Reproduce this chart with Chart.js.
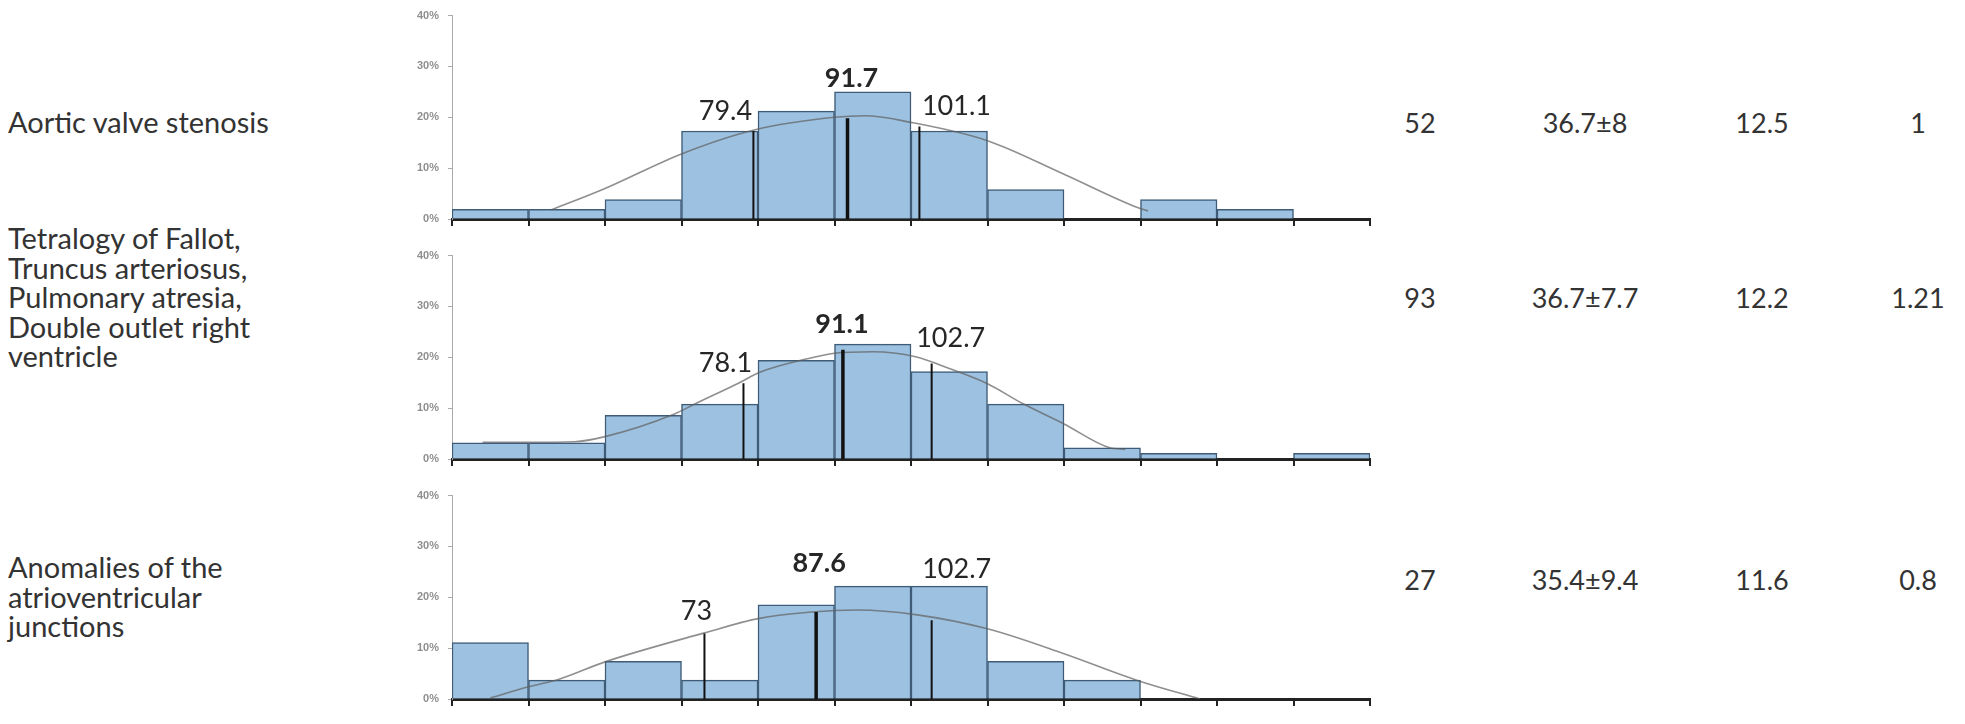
<!DOCTYPE html>
<html>
<head>
<meta charset="utf-8">
<script src="https://cdn.jsdelivr.net/npm/chart.js@4.4.0/dist/chart.umd.min.js"></script>
<style>
  html, body { margin: 0; padding: 0; background: #fff; }
  body { width: 1965px; height: 724px; position: relative; overflow: hidden;
         font-family: Lato, "Open Sans", sans-serif; color: #333; }
  .panel { position: absolute; left: 380px; width: 1020px; height: 240px; }
  .group { position: absolute; left: 8px; font-size: 29px; line-height: 29.5px;
           transform: translateY(-50%); }
  .cell { position: absolute; font-size: 27px; transform: translate(-50%, -50%);
          white-space: nowrap; }
</style>
</head>
<body>
<canvas id="c0" class="panel" width="1020" height="240" style="top:0px"></canvas>
<canvas id="c1" class="panel" width="1020" height="240" style="top:240px"></canvas>
<canvas id="c2" class="panel" width="1020" height="240" style="top:480px"></canvas>
<div id="table"></div>

<script>
// histogram bins (10 units wide, 40..160)
var binEdges = [40, 50, 60, 70, 80, 90, 100, 110, 120, 130, 140, 150, 160];
var binMids = [45, 55, 65, 75, 85, 95, 105, 115, 125, 135, 145, 155];
var yTicks = [0, 10, 20, 30, 40];

// % of patients per bin
var aorticPct    = [1.9, 1.9, 3.8, 17.3, 21.2, 25.0, 17.3, 5.8, 0, 3.8, 1.9, 0];
var tetralogyPct = [3.2, 3.2, 8.6, 10.8, 19.4, 22.6, 17.2, 10.8, 2.2, 1.1, 0, 1.1];
var avPct        = [11.1, 3.7, 7.4, 3.7, 18.5, 22.2, 22.2, 7.4, 3.7, 0, 0, 0];

// fitted curves
var aorticCurveX = [53, 60, 70, 79.5, 90, 94, 100, 110, 120, 129.7, 131];
var aorticCurveY = [1.8, 6.0, 12.8, 17.5, 20.0, 20.3, 19.0, 15.4, 8.8, 2.2, 1.6];
var tetralogyCurveX = [44, 50, 56, 60, 69, 72, 77.3, 80.3, 86.4, 90, 95, 100.6, 105, 110, 114.6, 120, 126, 128];
var tetralogyCurveY = [3.3, 3.3, 3.4, 4.4, 8.8, 11.0, 14.8, 17.1, 19.7, 20.8, 21.1, 20.1, 17.8, 14.8, 10.9, 6.9, 2.2, 1.9];
var avCurveX = [45, 50, 54, 60, 73, 80, 87, 93, 100.6, 110, 120, 129.7, 137.8];
var avCurveY = [0.2, 2.4, 3.9, 7.3, 13.0, 15.8, 17.1, 17.5, 16.6, 13.8, 8.9, 3.6, 0];

// marker lines: value and height (%)
var aorticMarks = [79.4, 91.7, 101.1];
var aorticMarkTops = [17.3, 19.8, 18.2];
var tetralogyMarks = [78.1, 91.1, 102.7];
var tetralogyMarkTops = [14.9, 21.5, 18.8];
var avMarks = [73, 87.6, 102.7];
var avMarkTops = [12.9, 17.1, 15.5];

// table
var groupNames = [
  ['Aortic valve stenosis'],
  ['Tetralogy of Fallot,', 'Truncus arteriosus,', 'Pulmonary atresia,', 'Double outlet right', 'ventricle'],
  ['Anomalies of the', 'atrioventricular', 'junctions']
];
var nPatients = ['52', '93', '27'];
var ageText = ['36.7±8', '36.7±7.7', '35.4±9.4'];
var col3Text = ['12.5', '12.2', '11.6'];
var col4Text = ['1', '1.21', '0.8'];

// label placement (pixel offsets from the line, baseline height in %)
var labelStyle = [
  { dx: [-28, 4, 37], lift: [19.4, 25.9, 20.4] },
  { dx: [-18, -1, 19], lift: [17.1, 24.8, 22.1] },
  { dx: [-8, 3, 25], lift: [15.6, 25.0, 23.8] }
];

var markLabels = {
  id: 'markLabels',
  afterDatasetsDraw: function(chart, args, opts) {
    var ctx = chart.ctx, x = chart.scales.x, y = chart.scales.y;
    ctx.save();
    ctx.fillStyle = '#262626';
    ctx.textAlign = 'center';
    ctx.textBaseline = 'alphabetic';
    opts.values.forEach(function(v, i) {
      ctx.font = (i === 1 ? 'bold ' : '') + '27px Lato';
      ctx.fillText(String(v), x.getPixelForValue(v) + opts.dx[i], y.getPixelForValue(opts.lift[i]));
    });
    ctx.restore();
  }
};

function makePanel(id, pct, curveX, curveY, marks, markTops, style) {
  var datasets = [];
  marks.forEach(function(m, i) {
    datasets.push({
      type: 'line',
      data: [{x: m, y: 0}, {x: m, y: markTops[i]}],
      borderColor: '#111',
      borderWidth: i === 1 ? 3.5 : 2,
      pointRadius: 0,
      order: 0
    });
  });
  datasets.push({
    type: 'line',
    data: curveX.map(function(v, i) { return {x: v, y: curveY[i]}; }),
    borderColor: 'rgba(95,95,95,0.7)',
    borderWidth: 1.6,
    pointRadius: 0,
    cubicInterpolationMode: 'monotone',
    order: 1
  });
  datasets.push({
    type: 'bar',
    data: binMids.map(function(v, i) { return {x: v, y: pct[i]}; }),
    backgroundColor: '#9dc1e0',
    borderColor: '#3e5c78',
    borderWidth: 1.5,
    barPercentage: 1,
    categoryPercentage: 1,
    order: 2
  });

  return new Chart(document.getElementById(id), {
    type: 'bar',
    data: { datasets: datasets },
    plugins: [markLabels],
    options: {
      responsive: false,
      animation: false,
      devicePixelRatio: 1,
      layout: { padding: { top: 15, right: 30, left: 0, bottom: 0 } },
      plugins: {
        legend: { display: false },
        tooltip: { enabled: false },
        markLabels: { values: marks, dx: style.dx, lift: style.lift }
      },
      scales: {
        x: {
          type: 'linear', min: 40, max: 160, offset: false,
          afterBuildTicks: function(s) { s.ticks = binEdges.map(function(v) { return {value: v}; }); },
          ticks: { callback: function() { return ''; } },
          grid: { drawOnChartArea: false, drawTicks: true, tickLength: 7, color: '#222', lineWidth: 2, offset: false },
          border: { display: true, color: '#222', width: 3 },
          afterFit: function(s) { s.height = 21; }
        },
        y: {
          min: 0, max: 40,
          afterBuildTicks: function(s) { s.ticks = yTicks.map(function(v) { return {value: v}; }); },
          ticks: {
            callback: function(v) { return v + '%'; },
            font: { size: 11, family: 'Liberation Sans', weight: 'bold' },
            color: '#8f8f8f', padding: 9
          },
          grid: { drawOnChartArea: false, drawTicks: true, tickLength: 4, color: '#aaa' },
          border: { color: '#aaa', width: 1 },
          afterFit: function(s) { s.width = 72; }
        }
      }
    }
  });
}

makePanel('c0', aorticPct, aorticCurveX, aorticCurveY, aorticMarks, aorticMarkTops, labelStyle[0]);
makePanel('c1', tetralogyPct, tetralogyCurveX, tetralogyCurveY, tetralogyMarks, tetralogyMarkTops, labelStyle[1]);
makePanel('c2', avPct, avCurveX, avCurveY, avMarks, avMarkTops, labelStyle[2]);

// side text
var groupY = [122, 297, 596];
var rowY = [122, 297, 579];
var colX = [1420, 1585, 1762, 1918];
var table = document.getElementById('table');
function addCell(text, x, y) {
  var d = document.createElement('div');
  d.className = 'cell';
  d.style.left = x + 'px';
  d.style.top = y + 'px';
  d.textContent = text;
  table.appendChild(d);
}
groupNames.forEach(function(lines, r) {
  var g = document.createElement('div');
  g.className = 'group';
  g.style.top = groupY[r] + 'px';
  g.innerHTML = lines.join('<br>');
  table.appendChild(g);
  addCell(nPatients[r], colX[0], rowY[r]);
  addCell(ageText[r], colX[1], rowY[r]);
  addCell(col3Text[r], colX[2], rowY[r]);
  addCell(col4Text[r], colX[3], rowY[r]);
});
</script>
</body>
</html>
